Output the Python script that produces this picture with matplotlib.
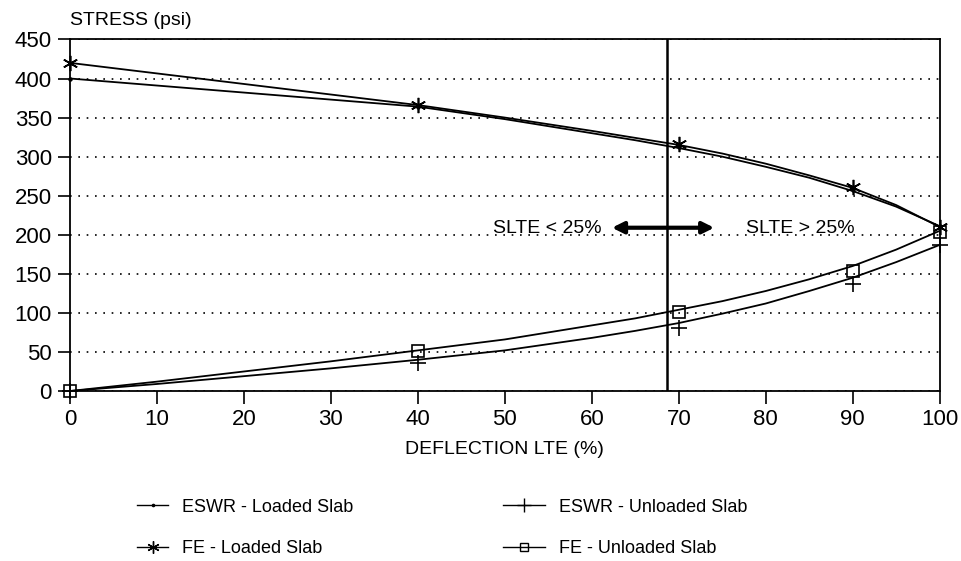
import matplotlib
matplotlib.use("Agg")
from matplotlib import pyplot as plt

plt.rcParams['font.family'] = ['Liberation Sans', 'DejaVu Sans']

# curvas suavizadas
lte_curva = [0, 10, 20, 30, 40, 50, 60, 65, 70, 75, 80, 85, 90, 95, 100]
eswr_cargada_curva = [400, 391, 382, 373, 364, 348, 330, 321, 311, 300, 287, 273, 256, 236, 211]
fe_cargada_curva = [420, 406.5, 393, 379.5, 366, 350, 333, 324, 315, 304, 291, 276, 260, 238, 210]
eswr_descargada_curva = [0, 9, 19, 29, 40, 52, 68, 77, 87, 99, 112, 128, 145, 165, 187]
fe_descargada_curva = [0, 12, 25, 38, 52, 66, 84, 93, 104, 115, 128, 143, 160, 181, 205]

# puntos calculados (marcadores)
lte_puntos = [0, 40, 70, 90, 100]
eswr_cargada = [400, 364, 312, 257, 211]
fe_cargada = [420, 366, 316, 261, 210]
eswr_descargada = [0, 36, 81, 137, 187]
fe_descargada = [0, 51, 101, 154, 203]

yticks = [0, 50, 100, 150, 200, 250, 300, 350, 400, 450]
xticks = [0, 10, 20, 30, 40, 50, 60, 70, 80, 90, 100]
limite_slte = 68.6

########################################################################################
fig = plt.figure(figsize=(9.61, 5.61), dpi=100)
ax = fig.add_axes([0.0728, 0.303, 0.905, 0.6267])

series = [
    (eswr_cargada_curva, eswr_cargada, '.', 4, 'ESWR - Loaded Slab'),
    (fe_cargada_curva, fe_cargada, (6, 2, 0), 11, 'FE - Loaded Slab'),
    (eswr_descargada_curva, eswr_descargada, '+', 12, 'ESWR - Unloaded Slab'),
    (fe_descargada_curva, fe_descargada, 's', 8, 'FE - Unloaded Slab'),
]
handles = []
for curva, puntos, marker, ms, nombre in series:
    ax.plot(lte_curva, curva, color='black', lw=1.3, zorder=3)
    ax.plot(lte_puntos, puntos, ls='none', marker=marker, ms=ms, color='black',
            mfc='none' if marker == 's' else 'black', mew=1.2, zorder=4, clip_on=False)
    h, = plt.plot([], [], color='black', lw=1.0, marker=marker, ms=ms * 0.8,
                  mfc='none' if marker == 's' else 'black', mew=1.0)
    handles.append((h, nombre))

ax.axvline(limite_slte, color='black', lw=1.8, zorder=2)
ax.annotate('', xy=(62.0, 209), xytext=(74.4, 209),
            arrowprops=dict(arrowstyle='<|-|>', color='black', lw=3, mutation_scale=17))
ax.text(48.6, 208, 'SLTE < 25%', fontsize=14, va='center', ha='left')
ax.text(77.7, 208, 'SLTE > 25%', fontsize=14, va='center', ha='left')

ax.set_xlim(0, 100)
ax.set_ylim(0, 450)
ax.set_xticks(xticks)
ax.set_yticks(yticks)
ax.tick_params(axis='both', labelsize=16, length=9, width=1.2, direction='out', pad=4)
ax.yaxis.grid(True, linestyle=(0, (1, 4)), color='black', lw=1.2)
ax.set_axisbelow(True)
for s in ax.spines.values():
    s.set_linewidth(1.3)
ax.set_xlabel('DEFLECTION LTE (%)', fontsize=14, labelpad=8)
fig.text(0.0728, 1 - 25 / 561, 'STRESS (psi)', fontsize=14, ha='left', va='baseline')

estilo = dict(loc='upper left', frameon=False, fontsize=13, labelspacing=1.35,
              handletextpad=0.8, borderpad=0.4)
leg1 = fig.legend([h for h, _ in handles[:2]], [n for _, n in handles[:2]],
                  bbox_to_anchor=(0.126, 0.14), handlelength=1.7, **estilo)
leg2 = fig.legend([h for h, _ in handles[2:]], [n for _, n in handles[2:]],
                  bbox_to_anchor=(0.507, 0.14), handlelength=2.3, **estilo)

fig.savefig('out.png', dpi=100)
